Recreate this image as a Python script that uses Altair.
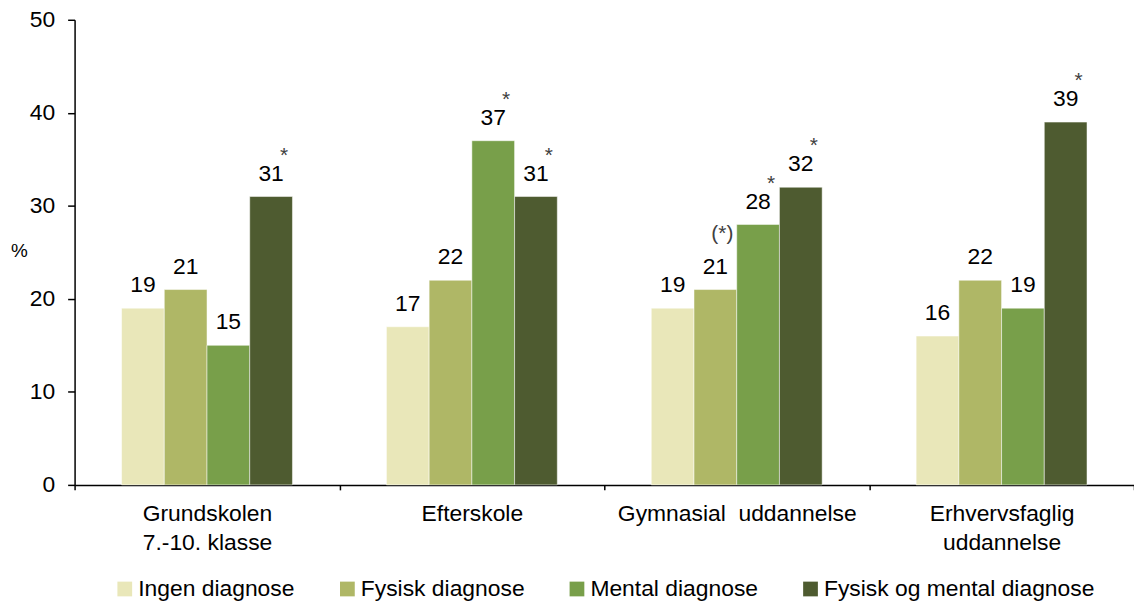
import altair as alt
import pandas as pd

categories = ["Grundskolen\n7.-10. klasse", "Efterskole", "Gymnasial \u00a0uddannelse", "Erhvervsfaglig\nuddannelse"]
series = ["Ingen diagnose", "Fysisk diagnose", "Mental diagnose", "Fysisk og mental diagnose"]
colors = ["#E9E7B9", "#AFB766", "#789F4A", "#4E5B30"]

ingen = [19, 17, 19, 16]
fysisk = [21, 22, 21, 22]
mental = [15, 37, 28, 19]
begge = [31, 31, 32, 39]

ingen_mark = ["", "", "", ""]
fysisk_mark = ["", "", "(*)", ""]
mental_mark = ["", "*", "*", ""]
begge_mark = ["*", "*", "*", "*"]

rows = []
for s, vals, marks in zip(series, [ingen, fysisk, mental, begge],
                          [ingen_mark, fysisk_mark, mental_mark, begge_mark]):
    for c, v, m in zip(categories, vals, marks):
        rows.append({"cat": c, "serie": s, "value": v, "mark": m})
df = pd.DataFrame(rows)

FONT = "Liberation Sans"
FS = 23

# empty slots on each side of a group leave the gap between groups
offset_domain = ["_gap_l"] + series + ["_gap_r"]

x = alt.X("cat:N", sort=categories, title=None,
          scale=alt.Scale(paddingInner=0, paddingOuter=0),
          axis=alt.Axis(labelAngle=0, labelFontSize=FS, labelFont=FONT, labelColor="black",
                        labelExpr="split(datum.label, '\\n')", labelLineHeight=29,
                        labelPadding=13, labelLimit=500, tickBand="extent", tickSize=5,
                        tickColor="black", tickWidth=1.5, domainColor="black", domainWidth=1.5))
xo = alt.XOffset("serie:N", scale=alt.Scale(domain=offset_domain, paddingInner=0, paddingOuter=0.1))
y = alt.Y("value:Q", title="%",
          scale=alt.Scale(domain=[0, 50], nice=False),
          axis=alt.Axis(values=[0, 10, 20, 30, 40, 50], grid=False, labelFontSize=FS,
                        labelFont=FONT, labelColor="black", labelPadding=13, tickSize=7,
                        tickColor="black", tickWidth=1.5, domainColor="black", domainWidth=1.5,
                        titleAngle=0, titleFontSize=19, titleFont=FONT, titleFontWeight="normal",
                        titleColor="black",
                        titleX=-56, titleY=232, titleBaseline="middle", titleAlign="center"))

color = alt.Color("serie:N", sort=series, title=None,
                  scale=alt.Scale(domain=series, range=colors),
                  legend=alt.Legend(orient="none", legendX=39, legendY=561, direction="horizontal",
                                    symbolType="square", symbolSize=220, symbolStrokeWidth=0,
                                    labelFontSize=FS, labelFont=FONT, labelColor="black",
                                    labelLimit=500, labelOffset=2, columnPadding=41))

base = alt.Chart(df)

bars = base.mark_bar(stroke="white", strokeWidth=0.5).encode(x=x, xOffset=xo, y=y, color=color)

labels = base.mark_text(fontSize=FS, font=FONT, color="black", baseline="alphabetic", dy=-16).encode(
    x=x, xOffset=xo, y=y, text=alt.Text("value:Q"))

stars = base.transform_filter("datum.mark == '*'").mark_text(
    fontSize=21, font=FONT, color="#404040", baseline="alphabetic", dx=13, dy=-35).encode(
    x=x, xOffset=xo, y=y, text="mark:N")

pstars = base.transform_filter("datum.mark == '(*)'").mark_text(
    fontSize=21, font=FONT, color="#404040", baseline="alphabetic", dx=7, dy=-50).encode(
    x=x, xOffset=xo, y=y, text="mark:N")

chart = alt.layer(bars, labels, stars, pstars).properties(
    width=1066, height=468,
    autosize=alt.AutoSizeParams(type="none"),
    padding={"left": 67, "top": 10, "right": 0, "bottom": 119},
).configure_view(stroke=None)

chart.save("out.html", embed_options={"renderer": "svg", "actions": False})
